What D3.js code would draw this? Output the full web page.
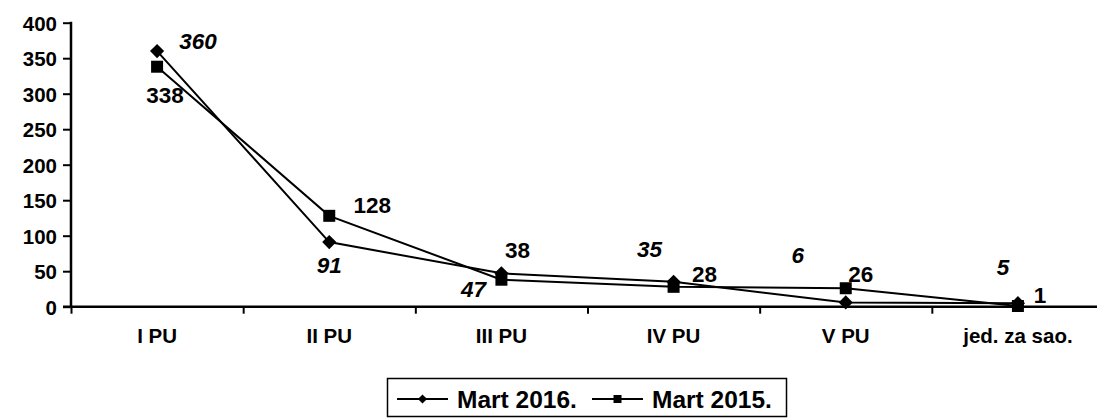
<!DOCTYPE html>
<html>
<head>
<meta charset="utf-8">
<script src="https://cdn.jsdelivr.net/npm/d3@7"></script>
<style>
  body { margin: 0; background: #fff; }
  svg text { font-family: "Liberation Sans", Arial, sans-serif; font-weight: bold; fill: #000; }
</style>
</head>
<body>
<script>
// data
var categories = ["I PU", "II PU", "III PU", "IV PU", "V PU", "jed. za sao."];
var mart2016 = [360, 91, 47, 35, 6, 5];
var mart2015 = [338, 128, 38, 28, 26, 1];
var yTicks = [0, 50, 100, 150, 200, 250, 300, 350, 400];

// label offsets from the point (text centre, baseline)
var off2016 = [[41, -2], [0, 31], [-28, 24], [-24, -25], [-48, -39], [-15, -28]];
var off2015 = [[8, 36], [43, -3], [16, -22], [31, -5], [15, -6], [22, -3]];

var W = 1097, H = 418;
var plotLeft = 71, plotRight = 1104, plotTop = 22.7, plotBottom = 306.7;

var svg = d3.select("body").append("svg")
        .attr("width", W)
        .attr("height", H);

var x = d3.scaleBand()
        .domain(categories)
        .range([plotLeft, plotRight])
        .padding(0);
var xIdx = d3.scaleLinear()
        .domain([0, categories.length])
        .range([plotLeft, plotRight]);
var y = d3.scaleLinear()
        .domain([0, 400])
        .range([plotBottom, plotTop]);

function cx(i) { return x(categories[i]) + x.bandwidth() / 2; }

// y-axis
var yAxis = svg.append("g")
        .attr("transform", "translate(" + plotLeft + ",0)")
        .call(d3.axisLeft(y).tickValues(yTicks).tickSize(8).tickPadding(6));
yAxis.select(".domain").attr("stroke", "#000").attr("stroke-width", 2.5)
        .attr("d", "M0," + (plotTop - 1) + "V" + plotBottom);
yAxis.selectAll(".tick line").attr("stroke", "#000").attr("stroke-width", 2);
yAxis.selectAll(".tick text").style("font-size", "20.5px").attr("dy", "0.36em");

// x-axis
var xAxis = svg.append("g")
        .attr("transform", "translate(0," + plotBottom + ")")
        .call(d3.axisBottom(xIdx).tickValues(d3.range(categories.length + 1))
              .tickFormat("").tickSize(7));
xAxis.select(".domain").attr("stroke", "#000").attr("stroke-width", 2.5)
        .attr("d", "M" + (plotLeft - 8) + ",0H" + plotRight);
xAxis.selectAll(".tick line").attr("stroke", "#000").attr("stroke-width", 2);

svg.append("g").selectAll("text")
        .data(categories)
        .join("text")
        .attr("x", function(d, i) { return cx(i); })
        .attr("y", 343)
        .attr("text-anchor", "middle")
        .style("font-size", "20.5px")
        .text(function(d) { return d; });

// markers: square, and diamond = square turned 45 degrees
var markers = {
    square: {rot: 0, size: 144, legendSize: 64},
    diamond: {rot: 45, size: 100, legendSize: 42}
};

// lines
var line = d3.line()
        .x(function(d, i) { return cx(i); })
        .y(function(d) { return y(d); });

function drawSeries(values, m) {
    svg.append("path")
            .attr("d", line(values))
            .attr("fill", "none")
            .attr("stroke", "#000")
            .attr("stroke-width", 2);
    svg.append("g").selectAll("path")
            .data(values)
            .join("path")
            .attr("transform", function(d, i) {
                return "translate(" + cx(i) + "," + y(d) + ") rotate(" + m.rot + ")"; })
            .attr("d", d3.symbol().type(d3.symbolSquare).size(m.size)())
            .attr("fill", "#000");
}
drawSeries(mart2015, markers.square);
drawSeries(mart2016, markers.diamond);

// data labels
function drawLabels(values, offs, italic) {
    svg.append("g").selectAll("text")
            .data(values)
            .join("text")
            .attr("x", function(d, i) { return cx(i) + offs[i][0]; })
            .attr("y", function(d, i) { return y(d) + offs[i][1]; })
            .attr("text-anchor", "middle")
            .style("font-size", "22.5px")
            .style("font-style", italic ? "italic" : "normal")
            .text(function(d) { return d; });
}
drawLabels(mart2016, off2016, true);
drawLabels(mart2015, off2015, false);

// legend
var legend = svg.append("g");
legend.append("rect")
        .attr("x", 387.5).attr("y", 378.5)
        .attr("width", 399).attr("height", 38)
        .attr("fill", "#fff").attr("stroke", "#000").attr("stroke-width", 1.5);

var legendItems = [
    {name: "Mart 2016.", m: markers.diamond, x0: 397},
    {name: "Mart 2015.", m: markers.square, x0: 592}
];
legendItems.forEach(function(it) {
    legend.append("line")
            .attr("x1", it.x0).attr("x2", it.x0 + 51)
            .attr("y1", 399).attr("y2", 399)
            .attr("stroke", "#000").attr("stroke-width", 2);
    legend.append("path")
            .attr("transform", "translate(" + (it.x0 + 25.5) + ",399) rotate(" + it.m.rot + ")")
            .attr("d", d3.symbol().type(d3.symbolSquare).size(it.m.legendSize)())
            .attr("fill", "#000");
    legend.append("text")
            .attr("x", it.x0 + 60)
            .attr("y", 408)
            .style("font-size", "24.5px")
            .text(it.name);
});
</script>
</body>
</html>
